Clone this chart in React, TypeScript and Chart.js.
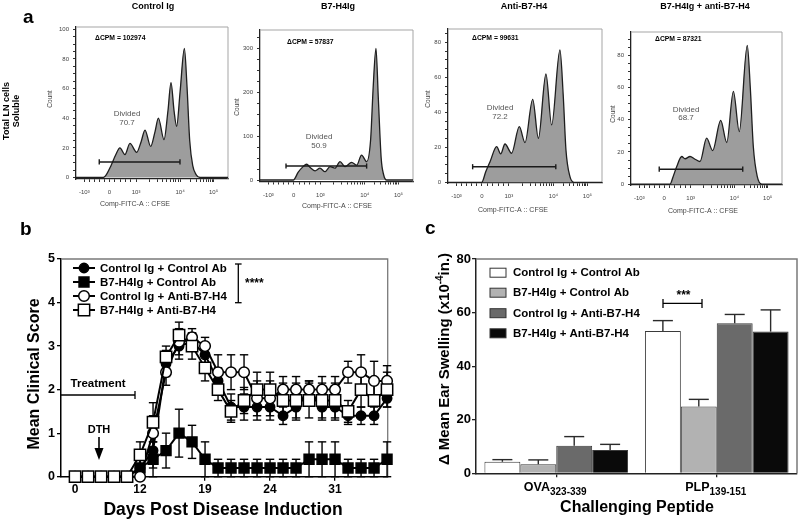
import React, { useEffect, useRef } from 'react';
import { Chart, registerables } from 'chart.js';

Chart.register(...registerables);

const PAGE_W = 800;
const PAGE_H = 523;
const SANS = '"Liberation Sans", Arial, Helvetica, sans-serif';

// ================= Panel a : CFSE dilution histograms =================
const histTitles = ['Control Ig', 'B7-H4Ig', 'Anti-B7-H4', 'B7-H4Ig + anti-B7-H4'];
const histCpm = ['ΔCPM = 102974', 'ΔCPM = 57837', 'ΔCPM = 99631', 'ΔCPM = 87321'];
const histDivided = ['70.7', '50.9', '72.2', '68.7'];
const cfseTickValues = [5.5, 22, 39.5, 68.5, 90.5];
const cfseTickLabels = ['-10³', '0', '10³', '10⁴', '10⁵'];
const histCountTicks = [
  [0, 20, 40, 60, 80, 100],
  [0, 100, 200, 300],
  [0, 20, 40, 60, 80],
  [0, 20, 40, 60, 80],
];

const controlIgCfse = [0, 18, 20, 23, 26, 28.9, 32.2, 35.5, 39.9, 42.8, 45.4, 49.1, 52, 54.2, 57.9, 60.5, 62.5, 64.5, 66.2, 68.5, 71.3, 73, 74.8, 76.8, 79, 81.6, 100];
const controlIgCount = [0, 0, 2, 8, 15, 20, 15.5, 23, 17, 24, 32, 21, 31, 40, 25.5, 45, 64, 45, 34.5, 58, 87, 62, 25, 8, 2, 0, 0];

const b7h4IgCfse = [0, 21.8, 25, 28, 30.5, 33, 36, 39.2, 42.5, 45.8, 49, 52.3, 55.6, 59.9, 63.2, 66.4, 69.7, 72.3, 74, 75.8, 77.3, 79.2, 80.8, 82.8, 100];
const b7h4IgCount = [0, 0, 18, 30, 36, 28, 21, 27, 19, 30.5, 27, 42, 30.5, 40.5, 34, 57, 42, 92, 214, 301, 190, 50, 12, 0, 0];

const antiB7h4Cfse = [0, 21.9, 24.5, 27.3, 31.6, 34.2, 37, 41.3, 46.3, 50, 55, 58.7, 63.6, 67.3, 72.7, 74.8, 76.6, 79.2, 81.8, 100];
const antiB7h4Count = [0, 0, 6, 11.8, 20.4, 16.2, 21.9, 16.6, 31.8, 22.7, 47.4, 25.1, 61.9, 32.8, 75.6, 50, 18.5, 3.2, 0, 0];

const comboCfse = [0, 25.8, 28, 30.3, 33.6, 35.8, 39.1, 42.4, 45.7, 50.1, 54.1, 59.4, 63.4, 67.8, 71.7, 77, 79, 81, 83.6, 86.6, 100];
const comboCount = [0, 0, 5, 11, 17.2, 15.8, 17.2, 15.5, 14.1, 28.6, 20.9, 39.6, 25.9, 57.6, 32.7, 86.2, 60, 23.4, 4.8, 0, 0];

const histGateStart = [15.3, 17, 16, 18.7];
const histGateEnd = [68.4, 69.7, 70, 74];
const histGateLevel = [10.5, 32, 8.9, 9.3];

const histXs = [controlIgCfse, b7h4IgCfse, antiB7h4Cfse, comboCfse];
const histYs = [controlIgCount, b7h4IgCount, antiB7h4Count, comboCount];

// ================= Panel b : clinical score =================
const timepoints = [0, 1, 2, 3, 4, 5, 6, 7, 8, 9, 10, 11, 12, 13, 14, 15, 16, 17, 18, 19, 20, 21, 22, 23, 24];
const dayTickIndex = [0, 5, 10, 15, 20];
const dayTickLabels = ['0', '12', '19', '24', '31'];

const scoreCtrlIgCtrlAb = [0, 0, 0, 0, 0, 0.2, 0.6, 2.6, 3.0, 3.1, 2.8, 2.2, 1.6, 1.6, 1.6, 1.6, 1.4, 1.6, 2.0, 1.6, 1.6, 1.4, 1.4, 1.4, 1.8];
const semCtrlIgCtrlAb = [0, 0, 0, 0, 0, 0.2, 0.4, 0.3, 0.3, 0.2, 0.2, 0.3, 0.3, 0.3, 0.3, 0.3, 0.2, 0.3, 0.2, 0.3, 0.3, 0.2, 0.2, 0.2, 0.2];
const scoreB7CtrlAb = [0, 0, 0, 0, 0, 0.2, 0.4, 0.6, 1.0, 0.8, 0.4, 0.2, 0.2, 0.2, 0.2, 0.2, 0.2, 0.2, 0.4, 0.4, 0.4, 0.2, 0.2, 0.2, 0.4];
const semB7CtrlAb = [0, 0, 0, 0, 0, 0.2, 0.4, 0.4, 0.55, 0.38, 0.4, 0.2, 0.2, 0.2, 0.2, 0.2, 0.2, 0.2, 0.4, 0.4, 0.4, 0.2, 0.2, 0.2, 0.4];
const scoreCtrlIgAnti = [0, 0, 0, 0, 0, 0, 1.0, 2.4, 3.1, 3.2, 3.0, 2.4, 2.4, 2.4, 1.8, 1.8, 2.0, 2.0, 2.0, 2.0, 2.0, 2.4, 2.4, 2.2, 2.2];
const semCtrlIgAnti = [0, 0, 0, 0, 0, 0, 0.4, 0.3, 0.3, 0.2, 0.2, 0.4, 0.4, 0.4, 0.4, 0.4, 0.3, 0.3, 0.2, 0.3, 0.3, 0.25, 0.4, 0.45, 0.35];
const scoreB7Anti = [0, 0, 0, 0, 0, 0.5, 1.25, 2.75, 3.25, 3.0, 2.5, 2.0, 1.5, 1.75, 2.0, 2.0, 1.75, 1.75, 1.75, 1.75, 1.75, 1.5, 2.0, 1.75, 2.0];
const semB7Anti = [0, 0, 0, 0, 0, 0.3, 0.45, 0.25, 0.3, 0.3, 0.3, 0.25, 0.25, 0.3, 0.4, 0.4, 0.4, 0.4, 0.4, 0.4, 0.4, 0.25, 0.4, 0.4, 0.4];

// ================= Panel c : ear swelling =================
const peptides = ['OVA', 'PLP'];
const peptideSubs = ['323-339', '139-151'];
const swellCtrlIgCtrlAb = [4.3, 53.1];
const swellCtrlIgCtrlAbErr = [0.8, 3.9];
const swellB7CtrlAb = [3.4, 24.9];
const swellB7CtrlAbErr = [1.6, 2.7];
const swellCtrlIgAnti = [10.3, 56];
const swellCtrlIgAntiErr = [3.4, 3.3];
const swellB7Anti = [8.7, 52.9];
const swellB7AntiErr = [2.1, 8.1];

// ================= helpers =================
type TextOpts = { weight?: string; align?: CanvasTextAlign; color?: string; rotate?: number; baseline?: CanvasTextBaseline };
function drawText(ctx: CanvasRenderingContext2D, s: string, x: number, y: number, size: number, o: TextOpts = {}) {
  ctx.save();
  ctx.font = `${o.weight ?? 'bold'} ${size}px ${SANS}`;
  ctx.fillStyle = o.color ?? '#000';
  ctx.textAlign = o.align ?? 'center';
  ctx.textBaseline = o.baseline ?? 'middle';
  ctx.translate(x, y);
  if (o.rotate) ctx.rotate(o.rotate);
  ctx.fillText(s, 0, 0);
  ctx.restore();
}

type Seg = { t: string; size: number; dy?: number };
function drawRich(ctx: CanvasRenderingContext2D, segs: Seg[], x: number, y: number, rotate = 0) {
  ctx.save();
  ctx.translate(x, y);
  if (rotate) ctx.rotate(rotate);
  ctx.fillStyle = '#000';
  ctx.textAlign = 'left';
  ctx.textBaseline = 'alphabetic';
  let total = 0;
  const widths = segs.map((s) => {
    ctx.font = `bold ${s.size}px ${SANS}`;
    const w = ctx.measureText(s.t).width;
    total += w;
    return w;
  });
  let cx = -total / 2;
  segs.forEach((s, i) => {
    ctx.font = `bold ${s.size}px ${SANS}`;
    ctx.fillText(s.t, cx, s.dy ?? 0);
    cx += widths[i];
  });
  ctx.restore();
}

function drawMarker(ctx: CanvasRenderingContext2D, style: string, x: number, y: number, r: number, fill: string) {
  ctx.save();
  ctx.fillStyle = fill;
  ctx.strokeStyle = '#000';
  ctx.lineWidth = 1.5;
  ctx.beginPath();
  if (style === 'circle') ctx.arc(x, y, r, 0, Math.PI * 2);
  else {
    const h = r * Math.SQRT1_2;
    ctx.rect(x - h, y - h, 2 * h, 2 * h);
  }
  ctx.fill();
  ctx.stroke();
  ctx.restore();
}

function line(ctx: CanvasRenderingContext2D, pts: number[][], color = '#000', width = 1.5) {
  ctx.save();
  ctx.strokeStyle = color;
  ctx.lineWidth = width;
  ctx.beginPath();
  pts.forEach((p, i) => (i ? ctx.lineTo(p[0], p[1]) : ctx.moveTo(p[0], p[1])));
  ctx.stroke();
  ctx.restore();
}

// ================= layouts =================
type HistLayout = {
  left: number; top: number; right: number; bottom: number; yMin: number; yMax: number;
  title: number[]; cpm: number[]; div: number[]; count: number[]; xTitle: number[];
};
const histLayouts: HistLayout[] = [
  { left: 76, top: 27, right: 228, bottom: 179, yMin: -1, yMax: 101.5, title: [153, 7], cpm: [95, 38], div: [127, 114, 123], count: [50, 99], xTitle: [135, 204] },
  { left: 260, top: 30, right: 413, bottom: 181.5, yMin: -3.4, yMax: 343, title: [338, 7], cpm: [287, 42], div: [319, 137, 146], count: [237, 107], xTitle: [337, 206] },
  { left: 448, top: 29, right: 602, bottom: 183, yMin: -0.4, yMax: 87.6, title: [524, 7], cpm: [472, 38], div: [500, 108, 117], count: [428, 99], xTitle: [513, 210] },
  { left: 631, top: 32, right: 782, bottom: 185, yMin: -0.5, yMax: 94.5, title: [705, 7], cpm: [655, 39], div: [686, 110, 118], count: [613, 114], xTitle: [703, 211] },
];

function cfseTickPositions(): number[] {
  const p = cfseTickValues;
  const out = [...p];
  for (let k = 1; k < 5; k++) {
    out.push(p[0] + ((p[1] - p[0]) * k) / 5);
    out.push(p[1] + ((p[2] - p[1]) * k) / 5);
  }
  for (let m = 2; m < 10; m++) {
    const f = Math.log10(m);
    out.push(p[2] + (p[3] - p[2]) * f);
    out.push(p[3] + (p[4] - p[3]) * f);
  }
  return out.sort((a, b) => a - b);
}

function histConfig(i: number): any {
  const L = histLayouts[i];
  const xs = histXs[i];
  const ys = histYs[i];
  const majors = histCountTicks[i];
  const yW = 30;
  const xH = 30;
  const plugin = {
    id: 'histDecor' + i,
    beforeDatasetsDraw(chart: any) {
      const { ctx, chartArea: a } = chart;
      line(ctx, [[a.left, a.top], [a.right, a.top], [a.right, a.bottom]], '#a5a5a5', 1);
    },
    afterDatasetsDraw(chart: any) {
      const { ctx } = chart;
      const xS = chart.scales.x;
      const yS = chart.scales.y;
      const gy = yS.getPixelForValue(histGateLevel[i]);
      const g0 = xS.getPixelForValue(histGateStart[i]);
      const g1 = xS.getPixelForValue(histGateEnd[i]);
      line(ctx, [[g0, gy], [g1, gy]], '#1a1a1a', 1.4);
      line(ctx, [[g0, gy - 2.6], [g0, gy + 2.6]], '#1a1a1a', 1.4);
      line(ctx, [[g1, gy - 2.6], [g1, gy + 2.6]], '#1a1a1a', 1.4);
      drawText(ctx, histTitles[i], L.title[0], L.title[1], 9);
      drawText(ctx, histCpm[i], L.cpm[0], L.cpm[1], 6.8, { align: 'left' });
      drawText(ctx, 'Divided', L.div[0], L.div[1], 8, { weight: 'normal', color: '#555' });
      drawText(ctx, histDivided[i], L.div[0], L.div[2], 8, { weight: 'normal', color: '#555' });
      drawText(ctx, 'Count', L.count[0], L.count[1], 6.5, { weight: 'normal', color: '#444', rotate: -Math.PI / 2 });
      drawText(ctx, 'Comp-FITC-A :: CFSE', L.xTitle[0], L.xTitle[1], 7, { weight: 'normal', color: '#444' });
      if (i === 0) {
        drawText(ctx, 'a', 23, 23, 19, { align: 'left', baseline: 'alphabetic' });
        drawText(ctx, 'Total LN cells', 6.5, 111, 9, { rotate: -Math.PI / 2 });
        drawText(ctx, 'Soluble', 16.5, 111, 9, { rotate: -Math.PI / 2 });
      }
    },
  };
  return {
    type: 'line',
    data: {
      datasets: [
        {
          data: xs.map((x, k) => ({ x, y: ys[k] })),
          borderColor: '#1e1e1e',
          borderWidth: 1.3,
          backgroundColor: '#9d9d9d',
          fill: 'origin',
          pointRadius: 0,
          cubicInterpolationMode: 'monotone',
        },
      ],
    },
    options: {
      animation: false,
      responsive: false,
      events: [],
      layout: { padding: { left: L.left - yW, top: L.top, right: PAGE_W - L.right, bottom: PAGE_H - L.bottom - xH } },
      plugins: { legend: { display: false }, tooltip: { enabled: false }, title: { display: false } },
      scales: {
        x: {
          type: 'linear',
          min: 0,
          max: 100,
          afterFit: (s: any) => { s.height = xH; },
          afterBuildTicks: (s: any) => { s.ticks = cfseTickPositions().map((v) => ({ value: v })); },
          ticks: {
            autoSkip: false,
            maxRotation: 0,
            minRotation: 0,
            padding: 7,
            font: { family: SANS, size: 6 },
            color: '#444',
            callback: (v: number) => {
              const j = cfseTickValues.findIndex((t) => Math.abs(t - v) < 1e-6);
              return j >= 0 ? cfseTickLabels[j] : '';
            },
          },
          grid: { drawOnChartArea: false, tickLength: 3, color: '#333' },
          border: { display: true, color: '#222', width: 1.3 },
        },
        y: {
          type: 'linear',
          min: L.yMin,
          max: L.yMax,
          afterFit: (s: any) => { s.width = yW; },
          afterBuildTicks: (s: any) => {
            const step = (majors[1] - majors[0]) / 4;
            const arr: any[] = [];
            for (let v = 0; v <= L.yMax + 1e-9; v += step) arr.push({ value: v });
            s.ticks = arr;
          },
          ticks: {
            autoSkip: false,
            padding: 4,
            font: { family: SANS, size: 6 },
            color: '#444',
            callback: (v: number) => (majors.some((m) => Math.abs(m - v) < 1e-6) ? String(v) : ''),
          },
          grid: { drawOnChartArea: false, tickLength: 3, color: '#333' },
          border: { display: true, color: '#222', width: 1.3 },
        },
      },
    },
    plugins: [plugin],
  };
}

// ================= Panel b config =================
const bSeries = [
  { label: 'Control Ig + Control Ab', data: scoreCtrlIgCtrlAb, err: semCtrlIgCtrlAb, style: 'circle', r: 4.7, fill: '#000' },
  { label: 'B7-H4Ig + Control Ab', data: scoreB7CtrlAb, err: semB7CtrlAb, style: 'rect', r: 7, fill: '#000' },
  { label: 'Control Ig + Anti-B7-H4', data: scoreCtrlIgAnti, err: semCtrlIgAnti, style: 'circle', r: 5.3, fill: '#fff' },
  { label: 'B7-H4Ig + Anti-B7-H4', data: scoreB7Anti, err: semB7Anti, style: 'rect', r: 8, fill: '#fff' },
];

function clinicalConfig(): any {
  const left = 61, top = 259, right = 387.7, bottom = 476.7;
  const yW = 30, xH = 30;
  const plugin = {
    id: 'clinicalDecor',
    beforeDatasetsDraw(chart: any) {
      const { ctx, chartArea: a } = chart;
      line(ctx, [[a.left, a.top], [a.right, a.top], [a.right, a.bottom]], '#7a7a7a', 1.3);
      const yS = chart.scales.y;
      bSeries.forEach((s, d) => {
        const meta = chart.getDatasetMeta(d);
        meta.data.forEach((pt: any, k: number) => {
          const e = s.err[k];
          if (!e) return;
          const yt = yS.getPixelForValue(s.data[k] + e);
          const yb = yS.getPixelForValue(Math.max(0, s.data[k] - e));
          line(ctx, [[pt.x, yt], [pt.x, yb]], '#000', 1.4);
          line(ctx, [[pt.x - 4.2, yt], [pt.x + 4.2, yt]], '#000', 1.4);
          line(ctx, [[pt.x - 4.2, yb], [pt.x + 4.2, yb]], '#000', 1.4);
        });
      });
    },
    afterDraw(chart: any) {
      const { ctx } = chart;
      drawText(ctx, 'b', 20, 235, 19, { align: 'left', baseline: 'alphabetic' });
      drawText(ctx, 'Mean Clinical Score', 35, 374, 16, { rotate: -Math.PI / 2 });
      drawText(ctx, 'Days Post Disease Induction', 223, 510.5, 17.5);
      // legend
      const rows = [268, 282, 296, 310];
      bSeries.forEach((s, d) => {
        line(ctx, [[73, rows[d]], [95, rows[d]]], '#000', 2);
        drawMarker(ctx, s.style, 84, rows[d], s.r, s.fill);
        drawText(ctx, s.label, 100, rows[d] + 0.5, 11.5, { align: 'left' });
      });
      // significance bracket
      line(ctx, [[238.3, 264], [238.3, 302.7]], '#000', 1.3);
      line(ctx, [[235, 264], [241.6, 264]], '#000', 1.3);
      line(ctx, [[235, 302.7], [241.6, 302.7]], '#000', 1.3);
      drawText(ctx, '****', 245, 284, 12, { align: 'left' });
      // treatment
      line(ctx, [[61, 395], [135, 395]], '#000', 1.3);
      line(ctx, [[135, 391], [135, 399]], '#000', 1.3);
      drawText(ctx, 'Treatment', 98, 384, 11.5);
      // DTH arrow
      drawText(ctx, 'DTH', 99, 430, 11);
      line(ctx, [[99, 437], [99, 450]], '#000', 1.6);
      ctx.save();
      ctx.fillStyle = '#000';
      ctx.beginPath();
      ctx.moveTo(94.5, 448);
      ctx.lineTo(103.5, 448);
      ctx.lineTo(99, 460);
      ctx.closePath();
      ctx.fill();
      ctx.restore();
    },
  };
  return {
    type: 'line',
    data: {
      datasets: bSeries.map((s, d) => ({
        label: s.label,
        data: timepoints.map((t, k) => ({ x: t, y: s.data[k] })),
        borderColor: '#000',
        borderWidth: 2,
        pointStyle: s.style,
        pointRadius: s.r,
        pointBackgroundColor: s.fill,
        pointBorderColor: '#000',
        pointBorderWidth: 1.5,
        tension: 0,
        order: 4 - d,
        clip: false,
      })),
    },
    options: {
      animation: false,
      responsive: false,
      events: [],
      layout: { padding: { left: left - yW, top, right: PAGE_W - right, bottom: PAGE_H - bottom - xH } },
      plugins: { legend: { display: false }, tooltip: { enabled: false } },
      scales: {
        x: {
          type: 'linear',
          min: -1.08,
          max: 24.05,
          afterFit: (s: any) => { s.height = xH; },
          afterBuildTicks: (s: any) => { s.ticks = dayTickIndex.map((v) => ({ value: v })); },
          ticks: {
            autoSkip: false,
            maxRotation: 0,
            padding: 2,
            font: { family: SANS, size: 12, weight: 'bold' },
            color: '#000',
            callback: (v: number) => {
              const j = dayTickIndex.indexOf(v);
              return j >= 0 ? dayTickLabels[j] : '';
            },
          },
          grid: { drawOnChartArea: false, tickLength: 4, color: '#000', lineWidth: 1.3 },
          border: { display: true, color: '#000', width: 1.5 },
        },
        y: {
          type: 'linear',
          min: 0,
          max: 5,
          afterFit: (s: any) => { s.width = yW; },
          ticks: { stepSize: 1, padding: 2, font: { family: SANS, size: 12.5, weight: 'bold' }, color: '#000' },
          grid: { drawOnChartArea: false, tickLength: 4, color: '#000', lineWidth: 1.3 },
          border: { display: true, color: '#000', width: 1.5 },
        },
      },
    },
    plugins: [plugin],
  };
}

// ================= Panel c config =================
const cSeries = [
  { label: 'Control Ig + Control Ab', data: swellCtrlIgCtrlAb, err: swellCtrlIgCtrlAbErr, color: '#ffffff' },
  { label: 'B7-H4Ig + Control Ab', data: swellB7CtrlAb, err: swellB7CtrlAbErr, color: '#b2b2b2' },
  { label: 'Control Ig + Anti-B7-H4', data: swellCtrlIgAnti, err: swellCtrlIgAntiErr, color: '#6a6a6a' },
  { label: 'B7-H4Ig + Anti-B7-H4', data: swellB7Anti, err: swellB7AntiErr, color: '#0a0a0a' },
];

function swellingConfig(): any {
  const left = 476, top = 259, right = 797, bottom = 473.3;
  const yW = 30, xH = 30;
  const plugin = {
    id: 'swellDecor',
    beforeDatasetsDraw(chart: any) {
      const { ctx, chartArea: a } = chart;
      line(ctx, [[a.left, a.top], [a.right, a.top], [a.right, a.bottom]], '#7a7a7a', 1.5);
    },
    afterDatasetsDraw(chart: any) {
      const { ctx } = chart;
      const yS = chart.scales.y;
      cSeries.forEach((s, d) => {
        const meta = chart.getDatasetMeta(d);
        meta.data.forEach((bar: any, k: number) => {
          const yt = yS.getPixelForValue(s.data[k] + s.err[k]);
          line(ctx, [[bar.x, bar.y], [bar.x, yt]], '#2a2a2a', 1.4);
          line(ctx, [[bar.x - 10, yt], [bar.x + 10, yt]], '#2a2a2a', 1.4);
        });
      });
    },
    afterDraw(chart: any) {
      const { ctx } = chart;
      const xS = chart.scales.x;
      drawText(ctx, 'c', 425, 234, 19, { align: 'left', baseline: 'alphabetic' });
      peptides.forEach((p, k) => {
        const cx = xS.getPixelForValue(k);
        drawRich(ctx, [{ t: p, size: 12.5 }, { t: peptideSubs[k], size: 10, dy: 4 }], cx - 1, 490.5);
      });
      drawText(ctx, 'Challenging Peptide', 637, 508, 16);
      drawRich(ctx, [{ t: 'Δ Mean Ear Swelling (x10', size: 15 }, { t: '-4', size: 10, dy: -6 }, { t: 'in.)', size: 15 }], 449, 359, -Math.PI / 2);
      // legend
      const rows = [272.7, 292.7, 313.2, 333.3];
      cSeries.forEach((s, d) => {
        ctx.save();
        ctx.fillStyle = s.color;
        ctx.strokeStyle = '#333';
        ctx.lineWidth = 1;
        ctx.fillRect(490, rows[d] - 4.5, 16, 9);
        ctx.strokeRect(490, rows[d] - 4.5, 16, 9);
        ctx.restore();
        drawText(ctx, s.label, 513, rows[d] + 0.5, 11.5, { align: 'left' });
      });
      // significance
      line(ctx, [[663, 303.3], [702, 303.3]], '#000', 1.3);
      line(ctx, [[663, 299], [663, 308]], '#000', 1.3);
      line(ctx, [[702, 299], [702, 308]], '#000', 1.3);
      drawText(ctx, '***', 683.5, 296, 12);
    },
  };
  return {
    type: 'bar',
    data: {
      labels: peptides,
      datasets: cSeries.map((s) => ({
        label: s.label,
        data: s.data,
        backgroundColor: s.color,
        borderColor: '#3a3a3a',
        borderWidth: 1,
        categoryPercentage: 0.895,
        barPercentage: 1,
      })),
    },
    options: {
      animation: false,
      responsive: false,
      events: [],
      layout: { padding: { left: left - yW, top, right: PAGE_W - right, bottom: PAGE_H - bottom - xH } },
      plugins: { legend: { display: false }, tooltip: { enabled: false } },
      scales: {
        x: {
          type: 'category',
          offset: true,
          afterFit: (s: any) => { s.height = xH; },
          ticks: { display: false },
          grid: { offset: false, drawOnChartArea: false, tickLength: 4, color: '#222', lineWidth: 1.3 },
          border: { display: true, color: '#222', width: 1.5 },
        },
        y: {
          type: 'linear',
          min: 0,
          max: 80,
          afterFit: (s: any) => { s.width = yW; },
          ticks: { stepSize: 20, padding: 1, font: { family: SANS, size: 13, weight: 'bold' }, color: '#000' },
          grid: { drawOnChartArea: false, tickLength: 4, color: '#222', lineWidth: 1.3 },
          border: { display: true, color: '#222', width: 1.5 },
        },
      },
    },
    plugins: [plugin],
  };
}

function FullCanvas({ make }: { make: () => any }) {
  const ref = useRef<HTMLCanvasElement>(null);
  useEffect(() => {
    const chart = new Chart(ref.current as HTMLCanvasElement, make());
    return () => chart.destroy();
  }, []);
  return (
    <canvas
      ref={ref}
      width={PAGE_W}
      height={PAGE_H}
      style={{ position: 'absolute', left: 0, top: 0, width: PAGE_W, height: PAGE_H }}
    />
  );
}

export default function App() {
  return (
    <div style={{ position: 'fixed', left: 0, top: 0, width: PAGE_W, height: PAGE_H, background: '#fff', overflow: 'hidden' }}>
      <FullCanvas make={() => histConfig(0)} />
      <FullCanvas make={() => histConfig(1)} />
      <FullCanvas make={() => histConfig(2)} />
      <FullCanvas make={() => histConfig(3)} />
      <FullCanvas make={clinicalConfig} />
      <FullCanvas make={swellingConfig} />
    </div>
  );
}
